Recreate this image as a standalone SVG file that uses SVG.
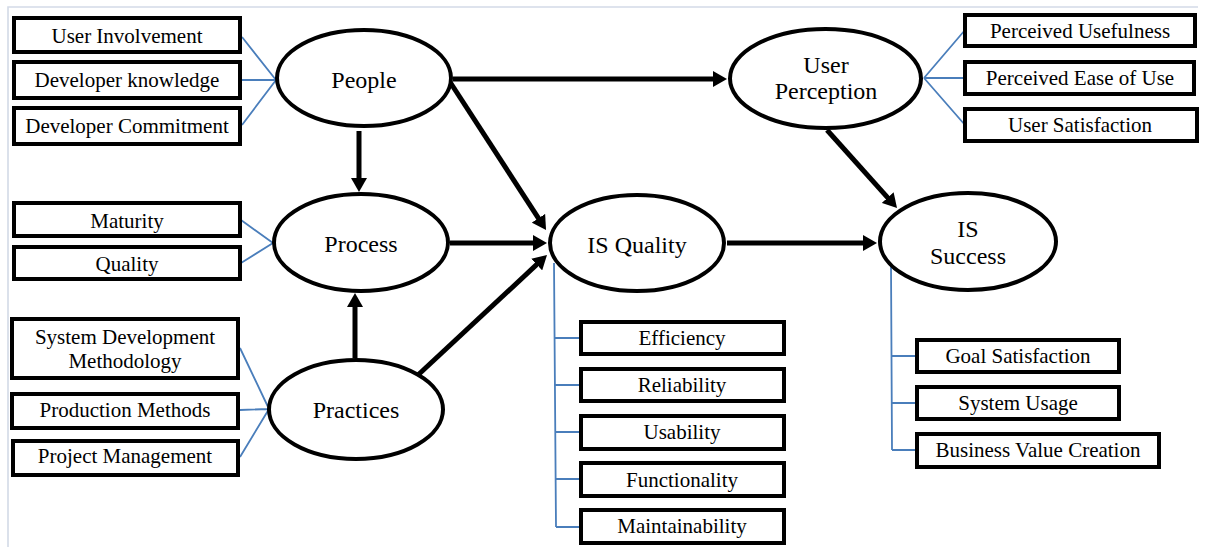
<svg xmlns="http://www.w3.org/2000/svg" width="1206" height="547" viewBox="0 0 1206 547">
<style>
.box{fill:#fff;stroke:#000;stroke-width:4}
.ell{fill:#fff;stroke:#000;stroke-width:4}
.bt{font-family:"Liberation Serif",serif;font-size:21px;fill:#000;text-anchor:middle}
.et{font-family:"Liberation Serif",serif;font-size:24px;fill:#000;text-anchor:middle}
.blue{stroke:#4a7ebb;stroke-width:1.8;fill:none}
.arr{stroke:#000;stroke-width:5;fill:none;marker-end:url(#ah)}
</style>
<defs>
<marker id="ah" viewBox="0 0 14 16" markerWidth="14" markerHeight="16" refX="2" refY="8" orient="auto" markerUnits="userSpaceOnUse">
<path d="M0,0 L14,8 L0,16 Z" fill="#000"/>
</marker>
</defs>
<rect width="1206" height="547" fill="#fff"/>
<path d="M8,547 L8,7 L1198,7" stroke="#d3dae7" stroke-width="1.6" fill="none"/>

<g id="connectors">
<path class="blue" d="M242,37 L276,80 M242,80 L276,80 M242,125 L276,80"/>
<path class="blue" d="M241,220 L273,243 M241,263 L273,243"/>
<path class="blue" d="M240,348 L269,409 M240,410 L269,409 M240,457 L269,409"/>
<path class="blue" d="M924,78 L965,30 M924,78 L965,78 M924,78 L965,125"/>
<path class="blue" d="M554,263 L556,527 M555,338 L581,338 M555,385 L581,385 M555,432 L581,432 M556,479 L581,479 M556,527 L581,527"/>
<path class="blue" d="M891,265 L892,450 M891,356 L917,356 M891,403 L917,403 M892,450 L917,450"/>
<line class="arr" x1="453" y1="79" x2="715" y2="79"/>
<line class="arr" x1="450" y1="82" x2="539.5" y2="219.9"/>
<line class="arr" x1="359" y1="131" x2="359" y2="180"/>
<line class="arr" x1="450" y1="243" x2="535" y2="243"/>
<line class="arr" x1="418" y1="375" x2="538.2" y2="263.2"/>
<line class="arr" x1="355" y1="358" x2="355" y2="305"/>
<line class="arr" x1="727" y1="243" x2="865" y2="243"/>
<line class="arr" x1="827" y1="130" x2="889" y2="199.1"/>
</g>

<g id="people"><ellipse class="ell" cx="364" cy="78" rx="87" ry="48"/><text class="et" x="364" y="88">People</text></g>
<g id="process"><ellipse class="ell" cx="361" cy="242.5" rx="87" ry="48.5"/><text class="et" x="361" y="252">Process</text></g>
<g id="practices"><ellipse class="ell" cx="356" cy="409.5" rx="87" ry="49.5"/><text class="et" x="356" y="418">Practices</text></g>
<g id="is-quality"><ellipse class="ell" cx="637" cy="243" rx="87" ry="48"/><text class="et" x="637" y="253">IS Quality</text></g>
<g id="user-perception"><ellipse class="ell" cx="825.5" cy="78.5" rx="95.5" ry="49.5"/><text class="et" x="826" y="73">User</text><text class="et" x="826" y="99">Perception</text></g>
<g id="is-success"><ellipse class="ell" cx="968" cy="241.5" rx="88" ry="48.5"/><text class="et" x="968" y="237">IS</text><text class="et" x="968" y="264">Success</text></g>

<g id="user-involvement"><rect class="box" x="14" y="18" width="226" height="34"/><text class="bt" x="127" y="43">User Involvement</text></g>
<g id="developer-knowledge"><rect class="box" x="14" y="62" width="226" height="36"/><text class="bt" x="127" y="87">Developer knowledge</text></g>
<g id="developer-commitment"><rect class="box" x="14" y="108" width="226" height="36"/><text class="bt" x="127" y="133">Developer Commitment</text></g>
<g id="maturity"><rect class="box" x="14" y="203" width="226" height="33"/><text class="bt" x="127" y="228">Maturity</text></g>
<g id="quality"><rect class="box" x="14" y="247" width="226" height="32"/><text class="bt" x="127" y="271">Quality</text></g>
<g id="sdm"><rect class="box" x="12" y="319" width="226" height="59"/><text class="bt" x="125" y="344">System Development</text><text class="bt" x="125" y="368">Methodology</text></g>
<g id="production-methods"><rect class="box" x="12" y="394" width="226" height="34"/><text class="bt" x="125" y="417">Production Methods</text></g>
<g id="project-management"><rect class="box" x="13" y="441" width="225" height="34"/><text class="bt" x="125" y="463">Project Management</text></g>

<g id="perceived-usefulness"><rect class="box" x="965" y="15" width="230" height="31"/><text class="bt" x="1080" y="38">Perceived Usefulness</text></g>
<g id="perceived-ease"><rect class="box" x="965" y="62" width="229" height="32"/><text class="bt" x="1080" y="85">Perceived Ease of Use</text></g>
<g id="user-satisfaction"><rect class="box" x="965" y="109" width="232" height="32"/><text class="bt" x="1080" y="132">User Satisfaction</text></g>

<g id="efficiency"><rect class="box" x="581" y="322" width="203" height="32"/><text class="bt" x="682" y="345">Efficiency</text></g>
<g id="reliability"><rect class="box" x="581" y="369" width="203" height="32"/><text class="bt" x="682" y="392">Reliability</text></g>
<g id="usability"><rect class="box" x="581" y="416" width="203" height="33"/><text class="bt" x="682" y="439">Usability</text></g>
<g id="functionality"><rect class="box" x="581" y="463" width="203" height="33"/><text class="bt" x="682" y="487">Functionality</text></g>
<g id="maintainability"><rect class="box" x="581" y="510" width="203" height="33"/><text class="bt" x="682" y="533">Maintainability</text></g>

<g id="goal-satisfaction"><rect class="box" x="917" y="340" width="202" height="32"/><text class="bt" x="1018" y="363">Goal Satisfaction</text></g>
<g id="system-usage"><rect class="box" x="917" y="387" width="202" height="32"/><text class="bt" x="1018" y="410">System Usage</text></g>
<g id="business-value"><rect class="box" x="917" y="434" width="242" height="33"/><text class="bt" x="1038" y="457">Business Value Creation</text></g>
</svg>
